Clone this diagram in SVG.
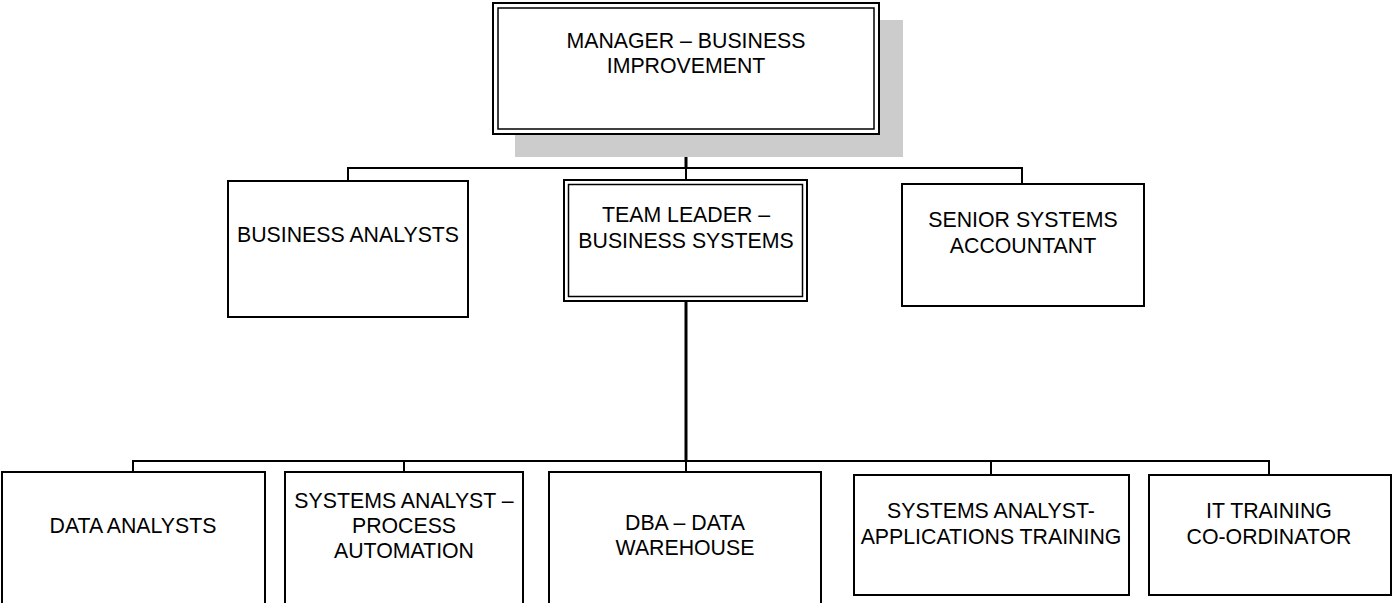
<svg xmlns="http://www.w3.org/2000/svg" width="1393" height="603" viewBox="0 0 1393 603">
<style>
.box{fill:#fff;stroke:#000;stroke-width:2}
.inner{fill:none;stroke:#000;stroke-width:1.5}
.t{font-family:"Liberation Sans",Arial,sans-serif;font-size:21.3px;fill:#000;text-anchor:middle}
.c{fill:none;stroke:#000;stroke-width:2}
.cv{fill:none;stroke:#000;stroke-width:3}
</style>
<rect width="1393" height="603" fill="#fff"/>
<g id="connectors">
<line class="cv" x1="686" y1="134" x2="686" y2="168"/>
<polyline class="c" points="348,181 348,168 1022,168 1022,184"/>
<line class="c" x1="686" y1="168" x2="686" y2="180"/>
<line class="cv" x1="686" y1="301" x2="686" y2="461"/>
<polyline class="c" points="133,472 133,461 1269,461 1269,475"/>
<line class="c" x1="404" y1="461" x2="404" y2="472"/>
<line class="c" x1="686" y1="461" x2="686" y2="472"/>
<line class="c" x1="991" y1="461" x2="991" y2="475"/>
</g>
<g id="manager">
<rect x="515" y="20" width="388" height="137" fill="#cccccc"/>
<rect class="box" x="493" y="3" width="386" height="131" stroke-width="2.5"/>
<rect class="inner" x="498" y="8" width="376" height="121"/>
<text class="t" x="686" y="48">MANAGER – BUSINESS</text>
<text class="t" x="686" y="73">IMPROVEMENT</text>
</g>
<g id="business-analysts">
<rect class="box" x="228" y="181" width="240" height="136"/>
<text class="t" x="348" y="242">BUSINESS ANALYSTS</text>
</g>
<g id="team-leader">
<rect class="box" x="564" y="180" width="243" height="121" stroke-width="2.5"/>
<rect class="inner" x="568.5" y="184.5" width="234" height="112"/>
<text class="t" x="686" y="222">TEAM LEADER –</text>
<text class="t" x="686" y="248">BUSINESS SYSTEMS</text>
</g>
<g id="senior-systems-accountant">
<rect class="box" x="902" y="184" width="242" height="122"/>
<text class="t" x="1023" y="227">SENIOR SYSTEMS</text>
<text class="t" x="1023" y="253">ACCOUNTANT</text>
</g>
<g id="data-analysts">
<rect class="box" x="2" y="472" width="263" height="140"/>
<text class="t" x="133" y="533">DATA ANALYSTS</text>
</g>
<g id="systems-analyst-process">
<rect class="box" x="285" y="472" width="238" height="140"/>
<text class="t" x="404" y="508">SYSTEMS ANALYST –</text>
<text class="t" x="404" y="533">PROCESS</text>
<text class="t" x="404" y="558">AUTOMATION</text>
</g>
<g id="dba">
<rect class="box" x="549" y="472" width="272" height="140"/>
<text class="t" x="685" y="530">DBA – DATA</text>
<text class="t" x="685" y="555">WAREHOUSE</text>
</g>
<g id="systems-analyst-apps">
<rect class="box" x="854" y="475" width="275" height="120"/>
<text class="t" x="991" y="518">SYSTEMS ANALYST-</text>
<text class="t" x="991" y="544">APPLICATIONS TRAINING</text>
</g>
<g id="it-training">
<rect class="box" x="1149" y="475" width="242" height="120"/>
<text class="t" x="1269" y="518">IT TRAINING</text>
<text class="t" x="1269" y="544">CO-ORDINATOR</text>
</g>
</svg>
